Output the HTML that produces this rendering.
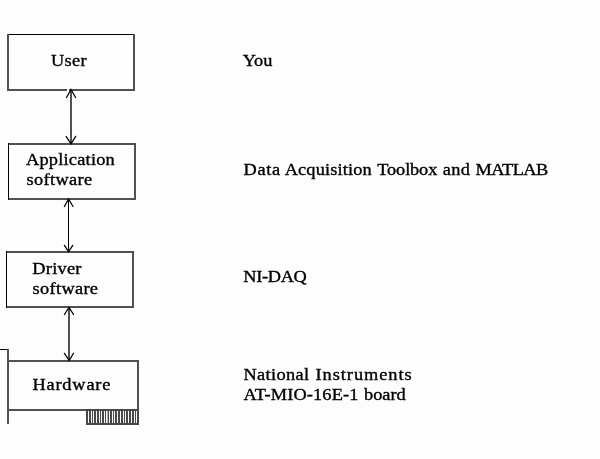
<!DOCTYPE html>
<html><head><meta charset="utf-8">
<style>
html,body{margin:0;padding:0;background:#fcfdfc;}
svg{display:block;}
text{font-family:"Liberation Serif",serif;font-size:17px;fill:#000;stroke:#000;stroke-width:0.35px;}
svg{will-change:transform;}
</style></head>
<body>
<svg width="600" height="459" viewBox="0 0 600 459" xmlns="http://www.w3.org/2000/svg">
<rect x="0" y="0" width="600" height="459" fill="#fcfdfc"/>
<g fill="#505250">
<!-- Box1 x7..134 y34..90 -->
<rect x="7" y="34" width="128" height="1" fill="#000"/>
<rect x="7" y="89" width="128" height="2"/>
<rect x="7" y="34" width="2" height="57"/>
<rect x="133" y="34" width="2" height="57"/>
<!-- Box2 x8..135 y143..199 -->
<rect x="8" y="143" width="128" height="2"/>
<rect x="8" y="198" width="128" height="2"/>
<rect x="8" y="143" width="1" height="57" fill="#000"/>
<rect x="134" y="143" width="2" height="57"/>
<!-- Box3 x6..133 y251..307 -->
<rect x="6" y="251" width="128" height="2"/>
<rect x="6" y="306" width="128" height="2"/>
<rect x="6" y="251" width="1" height="57" fill="#000"/>
<rect x="132" y="251" width="2" height="57"/>
<!-- Box4 x7..138 y360..410 -->
<rect x="7" y="360" width="132" height="2"/>
<rect x="7" y="409" width="132" height="2"/>
<rect x="137" y="360" width="2" height="51"/>
<!-- bracket -->
<rect x="0" y="349" width="9" height="1" fill="#000"/>
<rect x="7" y="349" width="2" height="75"/>
<!-- shafts -->
<rect x="70" y="91" width="2" height="52"/>
<rect x="68" y="200" width="1" height="51" fill="#000"/>
<rect x="68" y="308" width="2" height="52"/>
</g>
<rect x="67" y="89" width="2" height="2" fill="#fcfdfc"/>
<!-- connector -->
<rect x="86" y="409" width="53" height="16" fill="#474947"/>
<g fill="#fcfdfc"><rect x="88" y="411" width="1" height="12"/><rect x="91" y="411" width="1" height="12"/><rect x="93" y="411" width="1" height="12"/><rect x="96" y="411" width="1" height="12"/><rect x="99" y="411" width="1" height="12"/><rect x="101" y="411" width="1" height="12"/><rect x="104" y="411" width="1" height="12"/><rect x="106" y="411" width="1.6" height="12"/><rect x="109" y="411" width="1" height="12"/><rect x="112" y="411" width="1" height="12"/><rect x="114" y="411" width="1" height="12"/><rect x="117" y="411" width="1" height="12"/><rect x="120" y="411" width="1" height="12"/><rect x="123" y="411" width="1" height="12"/><rect x="125" y="411" width="1" height="12"/><rect x="128" y="411" width="1" height="12"/><rect x="131" y="411" width="1" height="12"/><rect x="134" y="411" width="1" height="12"/><rect x="136" y="411" width="1" height="12"/></g>
<g stroke="#000" stroke-width="1.25" fill="none" stroke-linecap="round">
<polyline points="66.5,97.5 71,89.5 75.6,97.5"/>
<polyline points="66.1,136.4 71,143.8 75.7,136.4"/>
<polyline points="64.4,206.5 68.5,199 73,206.5"/>
<polyline points="64.4,245.3 68.5,251.6 72.8,245.3"/>
<polyline points="64.4,314.5 69,307.3 73.5,314.5"/>
<polyline points="64.4,353.3 69.2,360.5 73.5,353.3"/>
</g>
<text transform="translate(51.0 66) scale(1.08 1)" letter-spacing="0.309">User</text>
<text transform="translate(26.0 165.3) scale(1.08 1)" letter-spacing="0.194">Application</text>
<text transform="translate(26.5 185) scale(1.08 1)" letter-spacing="0.317">software</text>
<text transform="translate(32.3 274) scale(1.08 1)" letter-spacing="0.222">Driver</text>
<text transform="translate(32.6 293.7) scale(1.08 1)" letter-spacing="0.291">software</text>
<text transform="translate(32.5 390) scale(1.08 1)" letter-spacing="0.728">Hardware</text>
<text transform="translate(242.7 66) scale(1.08 1)" letter-spacing="0.0">You</text>
<text transform="translate(243.5 175) scale(1.08 1)" letter-spacing="0.648">Data</text>
<text transform="translate(284.7 175) scale(1.08 1)" letter-spacing="0.12">Acquisition</text>
<text transform="translate(377.3 175) scale(1.08 1)" letter-spacing="-0.139">Toolbox</text>
<text transform="translate(442.7 175) scale(1.08 1)" letter-spacing="0.324">and</text>
<text transform="translate(475.6 175) scale(1.08 1)" letter-spacing="-0.519">MATLAB</text>
<text transform="translate(243.3 282.4) scale(1.08 1)" letter-spacing="-0.315">NI-DAQ</text>
<text transform="translate(243.5 380) scale(1.08 1)" letter-spacing="0.317">National</text>
<text transform="translate(315.5 380) scale(1.08 1)" letter-spacing="0.88">Instruments</text>
<text transform="translate(243.5 399.8) scale(1.08 1)" letter-spacing="0.118">AT-MIO-16E-1</text>
<text transform="translate(364.0 399.8) scale(1.08 1)" letter-spacing="0.0">board</text>
</svg>
</body></html>
